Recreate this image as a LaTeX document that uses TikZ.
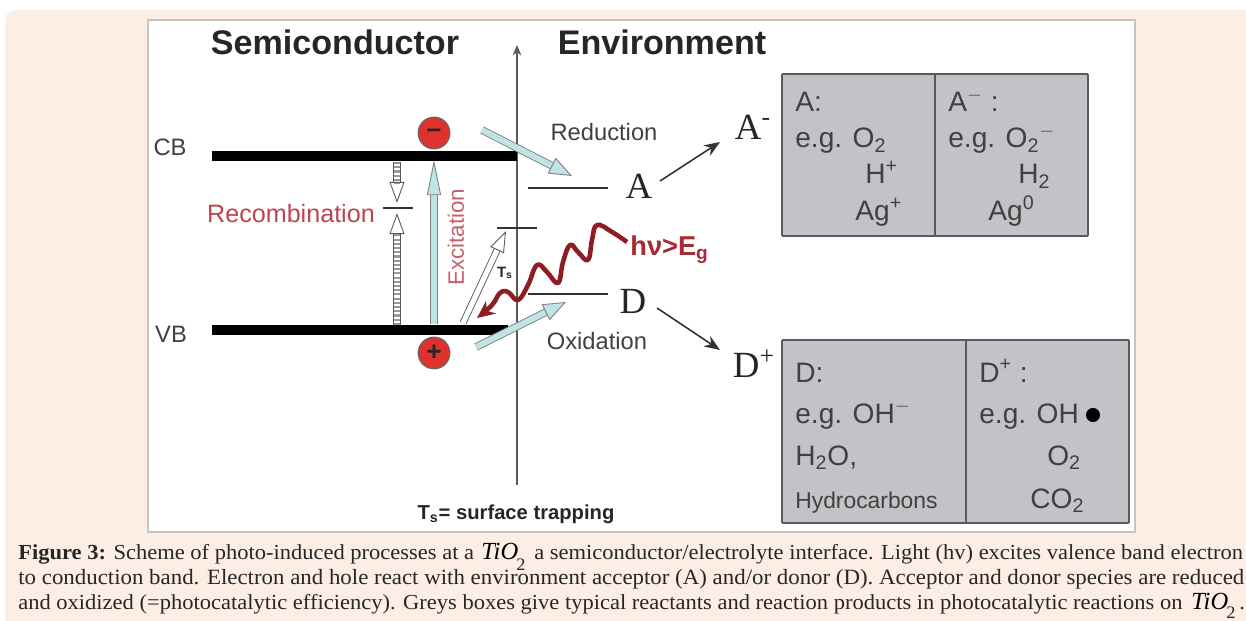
\documentclass[tikz,border=0pt]{standalone}
\usepackage{fontspec}
\setmainfont{Liberation Serif}
\setsansfont{Liberation Sans}
\usepackage{tikz}
\usetikzlibrary{arrows.meta,calc}

\definecolor{pagepeach}{HTML}{FCEEE4}
\definecolor{panelline}{HTML}{C4C4C4}
\definecolor{boxgrey}{HTML}{C3C3C7}
\definecolor{boxline}{HTML}{5A5A5E}
\definecolor{arrowblue}{HTML}{BFE3E6}
\definecolor{chargered}{HTML}{E0322C}
\definecolor{recombred}{HTML}{BC4450}
\definecolor{waveRed}{HTML}{8E1C22}
\definecolor{lightRed}{HTML}{A82A35}

\newfontfamily\captionfont[FakeStretch=1.05]{Liberation Serif}

\tikzset{
  sanstext/.style={font=\sffamily\fontsize{13.5}{15}\selectfont, text=black!75, inner sep=0pt},
  boxtext/.style={font=\sffamily\fontsize{16}{18}\selectfont, text=black!75, anchor=base west, inner sep=0pt},
  speciestext/.style={font=\fontsize{21}{24}\selectfont, text=black!85, inner sep=0pt},
  captiontext/.style={font=\captionfont\fontsize{12.2}{14}\selectfont, text=black!85, anchor=base west, inner sep=0pt},
  tiotext/.style={font=\fontsize{14}{16}\selectfont\itshape, text=black, anchor=base west, inner sep=0pt},
  tiosub/.style={font=\captionfont\fontsize{10}{12}\selectfont, text=black!85, inner sep=0pt},
  levelline/.style={line width=1.1pt, black!80},
  thinarrow/.style={line width=0.9pt, black!80, -{Stealth[length=9pt,width=7pt]}},
  bluearrow/.style={draw=black!50, double=arrowblue, double distance=3.4pt, line width=0.5pt,
    -{Triangle[length=13pt,width=10pt,fill=arrowblue]}},
  slimarrow/.style={bluearrow, -{Triangle[length=20pt,width=8pt,fill=arrowblue]}},
  whitearrow/.style={draw=black!65, double=white, double distance=3pt, line width=0.5pt,
    -{Triangle[length=12pt,width=8.5pt,fill=white]}},
  dotarrow/.style={whitearrow, postaction={draw=black!40, double=none, line width=3pt, dash pattern=on 1.2pt off 1.2pt, shorten >=11pt, -}},
  chargenode/.style={circle, draw=black!60, line width=0.7pt, fill=chargered, minimum size=18pt, inner sep=0pt,
    font=\sffamily\bfseries\fontsize{15}{15}\selectfont, text=black!85}
}

\begin{document}
\begin{tikzpicture}[x=0.02cm,y=-0.02cm]
\useasboundingbox (0,0) rectangle (1246,621);
\fill[white] (0,0) rectangle (1246,621);
\fill[pagepeach, rounded corners=6pt] (5,10) rectangle (1270,660);
\draw[panelline, fill=white, line width=0.6pt] (148,20) rectangle (1135,532);

% Headings
\node[font=\sffamily\bfseries\fontsize{19.4}{21}\selectfont, text=black!85, inner sep=0pt] (semi) at (335,42) {Semiconductor};
\node[font=\sffamily\bfseries\fontsize{19.4}{21}\selectfont, text=black!85, inner sep=0pt] (envi) at (662,42) {Environment};
\node[font=\sffamily\bfseries\fontsize{11.5}{13}\selectfont, text=black!85, inner sep=0pt] (trap) at (516,514) {T\textsubscript{s}= surface trapping};

% Axis
\coordinate (axisbot) at (517,485);
\coordinate (axistop) at (517,45);
\draw[line width=0.8pt, black!65, -{Stealth[length=6pt,width=5pt]}] (axisbot) -- (axistop);

% Bands
\coordinate (cbl) at (212,156);
\coordinate (cbr) at (517,156);
\coordinate (vbl) at (212,330);
\coordinate (vbr) at (508,330);
\draw[line width=5.6pt, black] (cbl) -- (cbr);
\draw[line width=5.6pt, black] (vbl) -- (vbr);
\node[sanstext] (cb) at (170,147) {CB};
\node[sanstext] (vb) at (171,334) {VB};

% Recombination
\node[font=\sffamily\fontsize{14.3}{18}\selectfont, text=recombred, inner sep=0pt] (recomb) at (291,214) {Recombination};
\coordinate (trapl) at (383,208);
\coordinate (trapr) at (413,208);
\draw[levelline] (trapl) -- (trapr);
\coordinate (recaa) at (397,162);
\coordinate (recab) at (397,203);
\coordinate (recba) at (397,325);
\coordinate (recbb) at (397,213);
\draw[dotarrow] (recaa) -- (recab);
\draw[dotarrow] (recba) -- (recbb);

% Excitation
\node[chargenode] (minus) at (434,133) {\textendash};
\node[chargenode] (plus) at (434,353) {+};
\coordinate (exca) at (434,324);
\coordinate (excb) at (434,160);
\draw[slimarrow] (exca) -- (excb);
\node[font=\sffamily\fontsize{12.7}{15}\selectfont, text=recombred!85, rotate=90, inner sep=0pt] (excit) at (456,237) {Excitation};

% Surface trap
\coordinate (tsl) at (497,228);
\coordinate (tsr) at (537,228);
\draw[levelline] (tsl) -- (tsr);
\coordinate (tsa) at (463,323);
\coordinate (tsb) at (506,231);
\draw[whitearrow] (tsa) -- (tsb);
\node[font=\sffamily\bfseries\fontsize{8.5}{10}\selectfont, text=black!85, inner sep=0pt] (ts) at (505,273) {T\textsubscript{s}};

% Acceptor and donor
\node[speciestext] (a) at (639,186) {A};
\node[speciestext] (d) at (633,301) {D};
\coordinate (al) at (528,188);
\coordinate (ar) at (608,188);
\coordinate (dl) at (528,294);
\coordinate (dr) at (608,294);
\draw[levelline] (al) -- (ar);
\draw[levelline] (dl) -- (dr);
\node[speciestext] (am) at (753,127) {A\textsuperscript{-}};
\node[speciestext] (dp) at (754,364) {D\textsuperscript{+}};
\draw[thinarrow] (660,181) -- (720,142);
\draw[thinarrow] (657,308) -- (720,350);
\node[sanstext] (red) at (604,132) {Reduction};
\node[sanstext] (oxi) at (597,341) {Oxidation};
\coordinate (reda) at (482,130);
\coordinate (redb) at (572,176);
\coordinate (oxia) at (476,347);
\coordinate (oxib) at (566,302);
\draw[bluearrow] (reda) -- (redb);
\draw[bluearrow] (oxia) -- (oxib);

% Light
\draw[waveRed, line width=2.6pt, line join=round, -{Stealth[length=10pt,width=9pt]}]
  plot[smooth, tension=0.7] coordinates {(627,242) (612,232) (597,225) (592,240) (588,260) (578,252) (570,245) (563,262) (558,283) (547,272) (537,265) (528,285) (518,300) (508,292) (500,293) (492,305) (477,318)};
\node[font=\sffamily\bfseries\fontsize{15.5}{17}\selectfont, text=lightRed, anchor=west, inner sep=0pt] (hv) at (630,250) {hν>E\textsubscript{g}};

% Upper grey box
\draw[boxline, fill=boxgrey, line width=1pt, rounded corners=0.5pt] (782,74) rectangle (1088,236);
\draw[boxline, line width=1pt] (935,74) -- (935,236);
\node[boxtext] (upa) at (795,112) {A:};
\node[boxtext] (upb) at (795,148) {e.g. O\textsubscript{2}};
\node[boxtext] (upc) at (865,184) {H\textsuperscript{+}};
\node[boxtext] (upd) at (855,221) {Ag\textsuperscript{+}};
\node[boxtext] (upe) at (948,112) {A\textsuperscript{$-$} :};
\node[boxtext] (upf) at (948,148) {e.g. O\textsubscript{2}\textsuperscript{$-$}};
\node[boxtext] (upg) at (1018,184) {H\textsubscript{2}};
\node[boxtext] (uph) at (988,221) {Ag\textsuperscript{0}};

% Lower grey box
\draw[boxline, fill=boxgrey, line width=1pt, rounded corners=0.5pt] (782,340) rectangle (1129,523);
\draw[boxline, line width=1pt] (966,340) -- (966,523);
\node[boxtext] (loa) at (795,382) {D:};
\node[boxtext] (lob) at (795,423) {e.g. OH\textsuperscript{$-$}};
\node[boxtext] (loc) at (795,465) {H\textsubscript{2}O,};
\node[boxtext, font=\sffamily\fontsize{13}{15}\selectfont] (lod) at (795,508) {Hydrocarbons};
\node[boxtext] (loe) at (979,382) {D\textsuperscript{+} :};
\node[boxtext] (lof) at (979,423) {e.g. OH};
\node[circle, fill=black, minimum size=8pt, inner sep=0pt] (dot) at (1093,415) {};
\node[boxtext] (log) at (1047,465) {O\textsubscript{2}};
\node[boxtext] (loh) at (1030,508) {CO\textsubscript{2}};

% Caption
\node[captiontext] (capa) at (18,559) {\textbf{Figure 3:} Scheme of photo-induced processes at a};
\node[tiotext] (tioa) at (481,559) {TiO};
\node[tiosub] (tiob) at (521,565) {2};
\node[captiontext] (capb) at (534,559) {a semiconductor/electrolyte interface. Light (hv) excites valence band electron};
\node[captiontext, font=\captionfont\fontsize{12.4}{14}\selectfont] (capc) at (18,584) {to conduction band. Electron and hole react with environment acceptor (A) and/or donor (D). Acceptor and donor species are reduced};
\node[captiontext] (capd) at (18,609) {and oxidized (=photocatalytic efficiency). Greys boxes give typical reactants and reaction products in photocatalytic reactions on};
\node[tiotext] (tioc) at (1191,609) {TiO};
\node[tiosub] (tiod) at (1231,613) {2};
\node[captiontext] (cape) at (1239,609) {.};
\end{tikzpicture}
\end{document}
